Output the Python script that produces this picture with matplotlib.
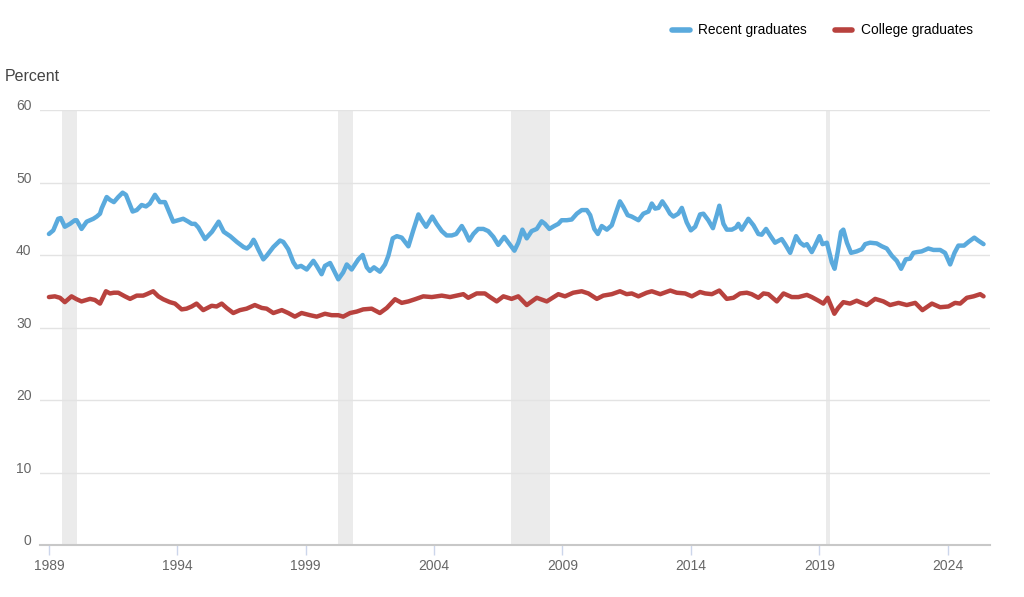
import matplotlib
matplotlib.use("Agg")
import matplotlib.pyplot as plt
import numpy as np

plt.rcParams['font.family'] = ['Liberation Sans', 'DejaVu Sans']

# x values are in the chart's displayed-year units
recent_years = [
    1989.0, 1989.17, 1989.36, 1989.46, 1989.62, 1989.82, 1990.01, 1990.08, 1990.27, 1990.47,
    1990.6, 1990.73, 1990.86, 1990.99, 1991.05, 1991.25, 1991.38, 1991.53, 1991.7, 1991.87,
    1992.0, 1992.16, 1992.26, 1992.42, 1992.61, 1992.78, 1992.93, 1993.13, 1993.32, 1993.52,
    1993.65, 1993.84, 1994.04, 1994.23, 1994.43, 1994.56, 1994.69, 1994.82, 1995.08, 1995.35,
    1995.61, 1995.81, 1996.06, 1996.32, 1996.58, 1996.71, 1996.84, 1996.97, 1997.02, 1997.15,
    1997.35, 1997.48, 1997.74, 1998.0, 1998.13, 1998.32, 1998.52, 1998.65, 1998.82, 1999.04,
    1999.3, 1999.43, 1999.62, 1999.75, 1999.95, 2000.08, 2000.27, 2000.46, 2000.6, 2000.79,
    2001.05, 2001.22, 2001.38, 2001.5, 2001.66, 2001.89, 2002.09, 2002.22, 2002.39, 2002.55,
    2002.74, 2003.0, 2003.19, 2003.39, 2003.52, 2003.69, 2003.93, 2004.1, 2004.3, 2004.49,
    2004.69, 2004.86, 2005.08, 2005.21, 2005.37, 2005.53, 2005.72, 2005.92, 2006.11, 2006.31,
    2006.5, 2006.73, 2006.96, 2007.13, 2007.28, 2007.44, 2007.61, 2007.8, 2008.0, 2008.19,
    2008.32, 2008.49, 2008.68, 2008.84, 2008.97, 2009.17, 2009.36, 2009.56, 2009.75, 2009.95,
    2010.08, 2010.24, 2010.38, 2010.53, 2010.73, 2010.92, 2011.12, 2011.24, 2011.37, 2011.54,
    2011.7, 2011.96, 2012.15, 2012.35, 2012.48, 2012.61, 2012.74, 2012.89, 2013.06, 2013.19,
    2013.32, 2013.51, 2013.65, 2013.84, 2014.0, 2014.17, 2014.36, 2014.49, 2014.68, 2014.86,
    2015.01, 2015.11, 2015.27, 2015.4, 2015.6, 2015.76, 2015.85, 2015.98, 2016.24, 2016.44,
    2016.63, 2016.76, 2016.93, 2017.09, 2017.28, 2017.54, 2017.67, 2017.87, 2018.1, 2018.26,
    2018.41, 2018.52, 2018.71, 2018.84, 2019.01, 2019.13, 2019.3, 2019.49, 2019.6, 2019.72,
    2019.85, 2019.94, 2020.08, 2020.24, 2020.46, 2020.66, 2020.79, 2020.98, 2021.24, 2021.44,
    2021.63, 2021.83, 2022.02, 2022.19, 2022.37, 2022.54, 2022.67, 2022.8, 2022.99, 2023.25,
    2023.45, 2023.71, 2023.9, 2024.1, 2024.27, 2024.42, 2024.64, 2024.81, 2025.04, 2025.19,
    2025.4,
]
recent_rate = [
    42.9, 43.4, 45.0, 45.1, 43.9, 44.3, 44.8, 44.8, 43.6, 44.6,
    44.8, 45.0, 45.3, 45.7, 46.4, 48.0, 47.6, 47.3, 48.0, 48.6,
    48.3, 46.9, 46.0, 46.2, 46.9, 46.7, 47.1, 48.3, 47.3, 47.3,
    46.2, 44.6, 44.8, 45.0, 44.6, 44.3, 44.3, 43.8, 42.2, 43.2,
    44.6, 43.2, 42.6, 41.8, 41.1, 40.9, 41.3, 42.1, 41.8, 40.8,
    39.4, 39.9, 41.1, 42.0, 41.8, 40.8, 39.0, 38.3, 38.5, 38.0,
    39.2, 38.5, 37.35, 38.5, 38.9, 38.0, 36.65, 37.6, 38.7, 38.0,
    39.4, 40.0, 38.3, 37.8, 38.3, 37.7, 38.7, 39.9, 42.3, 42.6,
    42.4, 41.2, 43.4, 45.6, 44.8, 43.9, 45.3, 44.3, 43.3, 42.7,
    42.7, 42.9, 44.0, 43.2, 42.0, 42.9, 43.6, 43.6, 43.3, 42.5,
    41.4, 42.5, 41.4, 40.6, 41.7, 43.5, 42.3, 43.3, 43.6, 44.65,
    44.3, 43.6, 44.0, 44.3, 44.8, 44.8, 44.9, 45.7, 46.2, 46.2,
    45.5, 43.6, 42.9, 44.0, 43.5, 44.1, 46.2, 47.4, 46.65, 45.5,
    45.3, 44.8, 45.7, 46.0, 47.1, 46.4, 46.5, 47.4, 46.5, 45.7,
    45.3, 45.7, 46.5, 44.5, 43.4, 43.9, 45.6, 45.7, 44.8, 43.7,
    45.5, 46.8, 44.3, 43.5, 43.5, 43.8, 44.3, 43.5, 45.0, 44.1,
    42.9, 42.8, 43.6, 42.7, 41.7, 42.2, 41.5, 40.3, 42.6, 41.7,
    41.3, 41.5, 40.4, 41.3, 42.6, 41.5, 41.7, 39.0, 38.1, 40.4,
    43.2, 43.5, 41.7, 40.3, 40.5, 40.8, 41.5, 41.7, 41.6, 41.2,
    40.9, 39.9, 39.2, 38.1, 39.4, 39.5, 40.3, 40.4, 40.5, 40.9,
    40.7, 40.7, 40.3, 38.7, 40.3, 41.3, 41.3, 41.8, 42.4, 42.0,
    41.5,
]

college_years = [
    1989.0, 1989.23, 1989.43, 1989.62, 1989.88, 1990.08, 1990.27, 1990.6, 1990.79, 1990.99,
    1991.22, 1991.38, 1991.53, 1991.7, 1991.96, 1992.16, 1992.42, 1992.67, 1992.81, 1993.06,
    1993.26, 1993.45, 1993.71, 1993.91, 1994.17, 1994.36, 1994.56, 1994.75, 1995.01, 1995.34,
    1995.53, 1995.73, 1995.92, 1996.18, 1996.44, 1996.7, 1997.02, 1997.29, 1997.48, 1997.74,
    1998.07, 1998.32, 1998.58, 1998.84, 1999.17, 1999.43, 1999.75, 2000.01, 2000.27, 2000.46,
    2000.73, 2000.99, 2001.24, 2001.57, 2001.89, 2002.16, 2002.48, 2002.74, 2003.0, 2003.26,
    2003.58, 2003.91, 2004.3, 2004.62, 2004.88, 2005.14, 2005.33, 2005.66, 2005.98, 2006.18,
    2006.44, 2006.7, 2007.02, 2007.28, 2007.61, 2008.0, 2008.39, 2008.84, 2009.1, 2009.42,
    2009.75, 2010.01, 2010.34, 2010.59, 2010.92, 2011.24, 2011.5, 2011.7, 2011.96, 2012.28,
    2012.48, 2012.81, 2013.2, 2013.45, 2013.78, 2014.04, 2014.36, 2014.56, 2014.82, 2015.11,
    2015.4, 2015.66, 2015.92, 2016.18, 2016.37, 2016.63, 2016.83, 2017.02, 2017.35, 2017.61,
    2017.93, 2018.19, 2018.52, 2018.71, 2018.97, 2019.16, 2019.33, 2019.59, 2019.74, 2019.94,
    2020.2, 2020.46, 2020.85, 2021.18, 2021.5, 2021.76, 2022.09, 2022.41, 2022.74, 2023.02,
    2023.39, 2023.71, 2024.03, 2024.29, 2024.49, 2024.75, 2025.01, 2025.27, 2025.4,
]
college_rate = [
    34.2, 34.3, 34.1, 33.5, 34.3, 33.9, 33.6, 33.95, 33.8, 33.3,
    35.0, 34.7, 34.8, 34.8, 34.3, 33.95, 34.4, 34.4, 34.6, 35.0,
    34.3, 33.9, 33.5, 33.3, 32.5, 32.6, 32.9, 33.3, 32.4, 33.0,
    32.9, 33.3, 32.7, 32.0, 32.4, 32.6, 33.1, 32.7, 32.6, 32.0,
    32.4, 32.0, 31.5, 32.0, 31.7, 31.5, 31.9, 31.7, 31.7, 31.5,
    32.0, 32.2, 32.5, 32.6, 32.0, 32.7, 33.9, 33.4, 33.6, 33.9,
    34.3, 34.2, 34.4, 34.2, 34.4, 34.6, 34.1, 34.7, 34.7, 34.2,
    33.6, 34.3, 33.95, 34.3, 33.1, 34.1, 33.6, 34.6, 34.3, 34.8,
    35.0, 34.7, 33.95, 34.4, 34.6, 35.0, 34.6, 34.7, 34.3, 34.8,
    35.0, 34.6, 35.1, 34.8, 34.7, 34.3, 34.9, 34.7, 34.6, 35.1,
    33.95, 34.1, 34.7, 34.8, 34.6, 34.1, 34.7, 34.6, 33.6, 34.7,
    34.2, 34.2, 34.5, 34.2, 33.7, 33.3, 34.1, 31.9, 32.7, 33.5,
    33.3, 33.7, 33.1, 33.95, 33.6, 33.1, 33.4, 33.1, 33.4, 32.4,
    33.3, 32.8, 32.9, 33.4, 33.3, 34.1, 34.3, 34.6, 34.3,
]

recession_start = [1989.5, 2000.25, 2007.0, 2019.27]
recession_end = [1990.11, 2000.85, 2008.5, 2019.43]

tick_years = [1989, 1994, 1999, 2004, 2009, 2014, 2019, 2024]
y_ticks = [0, 10, 20, 30, 40, 50, 60]

blue = '#5aaadd'
red = '#b8423e'

fig = plt.figure(figsize=(10.24, 5.97), dpi=100)
ax = fig.add_axes([0.039, 0.0871, 0.928, 0.7286])

for s, e in zip(recession_start, recession_end):
    ax.axvspan(s, e, color='#ebebeb', lw=0, zorder=0)

for y in y_ticks[1:]:
    ax.axhline(y, color='#e3e3e3', lw=1, zorder=1)

ax.plot(recent_years, recent_rate, color=blue, lw=3.2, solid_joinstyle='round',
        solid_capstyle='round', zorder=3, label='Recent graduates')
ax.plot(college_years, college_rate, color=red, lw=3.2, solid_joinstyle='round',
        solid_capstyle='round', zorder=3, label='College graduates')

ax.set_xlim(1988.65, 2025.66)
ax.set_ylim(0, 60)

for side in ['top', 'right', 'left']:
    ax.spines[side].set_visible(False)
ax.spines['bottom'].set_color('#c8c8c8')
ax.spines['bottom'].set_linewidth(1.5)
ax.spines['bottom'].set_zorder(4)

ax.set_xticks(tick_years)
ax.set_xticklabels([str(t) for t in tick_years])
ax.tick_params(axis='x', length=7, width=1, color='#ccd6eb', labelsize=10,
               labelcolor='#666666', pad=3)
ax.set_yticks(y_ticks)
ax.set_yticklabels([str(t) for t in y_ticks])
ax.tick_params(axis='y', length=0, labelsize=10, labelcolor='#666666', pad=6)
for lbl in ax.get_yticklabels():
    lbl.set_verticalalignment('baseline')

fig.text(0.005, 0.872, 'Percent', fontsize=11.5, color='#444444', va='center', ha='left')

leg = fig.legend(loc='center right', bbox_to_anchor=(0.962, 0.949), ncol=2, frameon=False,
                 fontsize=9.9, handlelength=1.3, columnspacing=2.0, handletextpad=0.6)
for line in leg.get_lines():
    line.set_linewidth(4)

fig.savefig('out.png', dpi=100)
